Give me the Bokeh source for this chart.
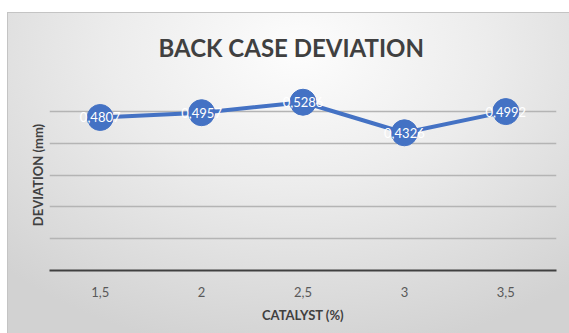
from bokeh.plotting import figure
from bokeh.models import ColumnDataSource, FactorRange, Range1d, FixedTicker
from bokeh.core.properties import value
from bokeh.embed import file_html
from bokeh.resources import INLINE

# Catalyst content (%) and measured back-case deviation (mm)
catalyst = ["1,5", "2", "2,5", "3", "3,5"]
deviation = [0.4807, 0.4957, 0.5286, 0.4326, 0.4992]
grid_levels = [0.1, 0.2, 0.3, 0.4, 0.5, 0.6]
y_max = 0.6

labels = [f"{v:.4f}".replace(".", ",") for v in deviation]
src = ColumnDataSource(dict(x=catalyst, y=deviation, label=labels))

BLUE = "#4472C4"
DARK = "#404040"

p = figure(
    width=562, height=321,
    x_range=FactorRange(factors=catalyst, range_padding=0),
    y_range=Range1d(0, y_max),
    output_backend="svg", toolbar_location=None,
    min_border_left=42, min_border_right=13,
    min_border_top=67, min_border_bottom=63,
)
p.margin = (12, 0, 0, 7)
p.styles = {
    "background": "radial-gradient(ellipse 75% 95% at 52% 12%, #fdfdfd 0%, #ececec 45%, #d2d2d2 100%)",
    "box-shadow": "inset 1px 1px 0 #c4c4c4",
}
p.background_fill_color = None
p.border_fill_color = None
p.outline_line_color = None

# title, placed from the left edge of the frame
p.title.text = "BACK CASE DEVIATION"
p.title.align = "left"
p.title.offset = 109
p.title.standoff = 36
p.title.text_font = "Lato"
p.title.text_font_size = "24px"
p.title.text_font_style = "bold"
p.title.text_color = DARK

# x axis
xa = p.xaxis[0]
xa.axis_line_color = DARK
xa.axis_line_width = 2
xa.major_tick_line_color = None
xa.minor_tick_line_color = None
xa.major_label_text_font = "Lato"
xa.major_label_text_font_size = "13px"
xa.major_label_text_color = "#595959"
xa.major_label_standoff = 10
xa.axis_label = "CATALYST (%)"
xa.axis_label_text_font = "Lato"
xa.axis_label_text_font_size = "13px"
xa.axis_label_text_font_style = "bold"
xa.axis_label_text_color = DARK
xa.axis_label_standoff = 7

# y axis: label only, gridlines every 0.1
ya = p.yaxis[0]
ya.ticker = FixedTicker(ticks=[])
ya.axis_line_color = None
ya.major_tick_line_color = None
ya.minor_tick_line_color = None
ya.axis_label = "DEVIATION (mm)"
ya.axis_label_text_font = "Lato"
ya.axis_label_text_font_size = "13px"
ya.axis_label_text_font_style = "bold"
ya.axis_label_text_color = DARK
ya.axis_label_standoff = 4

p.xgrid.grid_line_color = None
p.ygrid.ticker = FixedTicker(ticks=grid_levels)
p.ygrid.grid_line_color = "#b4b4b4"
p.ygrid.grid_line_width = 1.3

# series
p.line("x", "y", source=src, line_width=4, line_color=BLUE)
p.scatter("x", "y", source=src, size=26, fill_color=BLUE, line_color=BLUE)
p.text("x", "y", text="label", source=src,
       text_font=value("Lato"), text_font_size=value("13px"),
       text_color="white", text_align="center", text_baseline="middle")

open("out.html", "w").write(file_html(p, INLINE))
